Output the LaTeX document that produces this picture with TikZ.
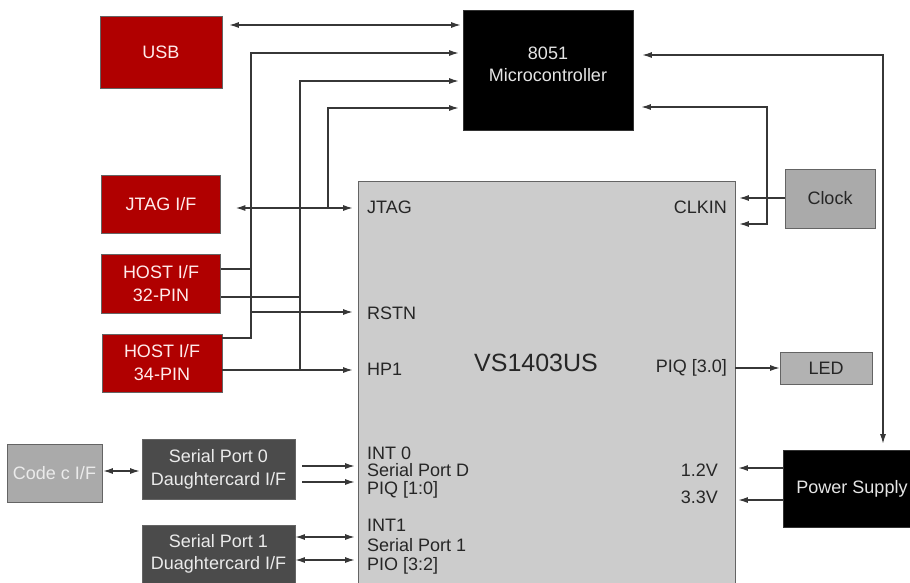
\documentclass[tikz,border=0pt]{standalone}
\usepackage{fontspec}
\setmainfont{Liberation Sans}
\usetikzlibrary{arrows.meta,calc}
\definecolor{boxred}{RGB}{176,0,0}
\definecolor{chipgray}{RGB}{204,204,204}
\definecolor{midgray}{RGB}{170,170,170}
\definecolor{ledgray}{RGB}{178,178,178}
\definecolor{darkbox}{RGB}{75,75,75}
\definecolor{wire}{RGB}{55,55,55}
\definecolor{edge}{RGB}{100,100,100}
\begin{document}
\begin{tikzpicture}[x=1pt,y=-1pt,
  box/.style={draw=edge, line width=0.8pt, inner sep=0pt, align=center,
    font=\fontsize{18}{23}\selectfont},
  redbox/.style={box, fill=boxred, text=white!92!red},
  blackbox/.style={box, fill=black, draw=black!80, text=white!90!black},
  darkgraybox/.style={box, fill=darkbox, text=white!92!black},
  lightbox/.style={box, fill=midgray, text=black!85},
  boxtext/.style={inner sep=0pt, align=center, font=\fontsize{18}{22}\selectfont},
  pin/.style={inner sep=0pt, text=black!85, align=left,
    font=\fontsize{18}{18}\selectfont},
  wireline/.style={draw=wire, line width=1.1pt},
  arr/.style={wireline, -{Latex[length=9.5pt,width=6pt]}},
  darr/.style={wireline, {Latex[length=9.5pt,width=6pt]}-{Latex[length=9.5pt,width=6pt]}}
]
\useasboundingbox (0,0) rectangle (910,582);
\fill[white] (0,0) rectangle (910,582);

% main chip
\node[box, fill=chipgray, minimum width=377pt, minimum height=420pt] (vs) at (546.5,391) {};
\node[inner sep=0pt, text=black!85, font=\fontsize{25}{27}\selectfont] (vsname) at (536,363) {VS1403US};
\node[pin, anchor=west] (pjtag) at (367,207) {JTAG};
\node[pin, anchor=west] (prstn) at (367,313) {RSTN};
\node[pin, anchor=west] (php1) at (367,369) {HP1};
\node[pin, anchor=west, font=\fontsize{18}{17.5}\selectfont] (pint0) at (367,472.5) {INT 0\\Serial Port D\\PIQ [1:0]};
\node[pin, anchor=west, font=\fontsize{18}{19.5}\selectfont] (pint1) at (367,547) {INT1\\Serial Port 1\\PIO [3:2]};
\node[pin, anchor=east] (pclk) at (727,207) {CLKIN};
\node[pin, anchor=east] (ppiq) at (727,368) {PIQ [3.0]};
\node[pin, anchor=east] (p12) at (718,470) {1.2V};
\node[pin, anchor=east] (p33) at (718,497) {3.3V};

% boxes
\node[redbox, minimum width=122pt, minimum height=72pt] (usb) at (161,52) {USB};
\node[blackbox, minimum width=170pt, minimum height=120pt] (mcu) at (548,70) {};
\node[boxtext, text=white!90!black] (mcutext) at (548,64) {8051\\Microcontroller};
\node[redbox, minimum width=119pt, minimum height=58pt] (jtag) at (161,204) {JTAG I/F};
\node[redbox, minimum width=119pt, minimum height=59pt] (h32) at (161,283.5) {HOST I/F\\32-PIN};
\node[redbox, minimum width=120pt, minimum height=58pt] (h34) at (162,363) {HOST I/F\\34-PIN};
\node[lightbox, minimum width=90pt, minimum height=59pt] (clock) at (830,198.5) {Clock};
\node[box, fill=ledgray, text=black!85, minimum width=92pt, minimum height=32pt] (led) at (826,368) {LED};
\node[blackbox, minimum width=138pt, minimum height=77pt] (power) at (852,488.5) {Power Supply};
\node[lightbox, text=white!92!black, minimum width=95pt, minimum height=58pt] (codec) at (54.5,473) {Code c I/F};
\node[darkgraybox, minimum width=153pt, minimum height=60pt] (sp0) at (218.5,469) {Serial Port 0\\Daughtercard I/F};
\node[darkgraybox, minimum width=153pt, minimum height=70pt] (sp1) at (218.5,560) {};
\node[boxtext, text=white!92!black] (sp1text) at (218.5,554) {Serial Port 1\\Duaghtercard I/F};

% USB <-> 8051
\draw[darr, shorten <=7pt, shorten >=2pt] (usb.east |- 0,25) -- (mcu.west |- 0,25);

% host 32 / 34 to 8051 and RSTN
\draw[arr, shorten >=4pt] (h32.east |- 0,269) -| (251,53) -- (mcu.west |- 0,53);
\draw[wireline] (h34.east |- 0,338) -| (251,269);
\draw[arr, shorten >=5pt] (251,312) -- (vs.west |- 0,312);

\draw[arr, shorten >=4pt] (h32.east |- 0,297) -| (300,81) -- (mcu.west |- 0,81);
\draw[wireline] (300,297) -- (300,370);
\draw[arr, shorten >=5pt] (h34.east |- 0,370) -- (vs.west |- 0,370);

% JTAG
\draw[darr, shorten <=15pt, shorten >=5pt] (jtag.east |- 0,208) -- (vs.west |- 0,208);
\draw[arr, shorten >=4pt] (328,208) |- (mcu.west |- 0,108);

% right side
\draw[darr, shorten <=9pt, shorten >=6pt] (mcu.east |- 0,55) -| (883,0 |- power.north);
\draw[arr, shorten >=4pt] (clock.west |- 0,198) -- (vs.east |- 0,198);
\draw[darr, shorten <=4pt, shorten >=8pt] (vs.east |- 0,224) -- (767,224) |- (mcu.east |- 0,107);
\draw[arr] (vs.east |- 0,368) -- (led.west |- 0,368);
\draw[arr, shorten >=3pt] (power.west |- 0,468) -- (vs.east |- 0,468);
\draw[arr, shorten >=3pt] (power.west |- 0,500) -- (vs.east |- 0,500);

% bottom left
\draw[darr, shorten <=1pt, shorten >=2pt] (codec.east |- 0,471) -- (sp0.west |- 0,471);
\draw[arr, shorten <=7pt, shorten >=3pt] (sp0.east |- 0,466) -- (vs.west |- 0,466);
\draw[arr, shorten <=7pt, shorten >=3pt] (sp0.east |- 0,482) -- (vs.west |- 0,482);
\draw[darr, shorten >=3pt] (sp1.east |- 0,537) -- (vs.west |- 0,537);
\draw[darr, shorten >=3pt] (sp1.east |- 0,560) -- (vs.west |- 0,560);
\end{tikzpicture}
\end{document}
